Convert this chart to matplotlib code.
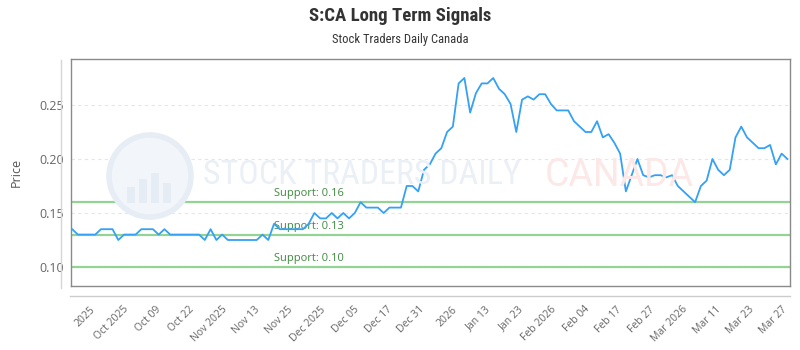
import numpy as np
import matplotlib
matplotlib.use("Agg")
import matplotlib.pyplot as plt
from matplotlib import font_manager
from matplotlib.patches import Ellipse, Rectangle
from matplotlib.lines import Line2D

# daily closes
prices = [
    0.135, 0.13, 0.13, 0.13, 0.13, 0.135, 0.135, 0.135, 0.125, 0.13,
    0.13, 0.13, 0.135, 0.135, 0.135, 0.13, 0.135, 0.13, 0.13, 0.13,
    0.13, 0.13, 0.13, 0.125, 0.135, 0.125, 0.13, 0.125, 0.125, 0.125,
    0.125, 0.125, 0.125, 0.13, 0.125, 0.14, 0.135, 0.135, 0.135, 0.135,
    0.135, 0.14, 0.15, 0.145, 0.145, 0.15, 0.145, 0.15, 0.145, 0.15,
    0.16, 0.155, 0.155, 0.155, 0.15, 0.155, 0.155, 0.155, 0.175, 0.175,
    0.17, 0.19, 0.195, 0.205, 0.21, 0.225, 0.23, 0.27, 0.275, 0.243,
    0.261, 0.27, 0.27, 0.275, 0.265, 0.26, 0.251, 0.225, 0.255, 0.258,
    0.255, 0.26, 0.26, 0.251, 0.245, 0.245, 0.245, 0.235, 0.23, 0.225,
    0.225, 0.235, 0.22, 0.223, 0.215, 0.205, 0.17, 0.185, 0.20, 0.185,
    0.183, 0.185, 0.185, 0.183, 0.185, 0.175, 0.17, 0.165, 0.16, 0.175,
    0.18, 0.20, 0.19, 0.185, 0.19, 0.22, 0.23, 0.22, 0.215, 0.21,
    0.21, 0.213, 0.195, 0.205, 0.20,
]
tick_labels = [
    "2025", "Oct 2025", "Oct 09", "Oct 22", "Nov 2025", "Nov 13", "Nov 25",
    "Dec 2025", "Dec 05", "Dec 17", "Dec 31", "2026", "Jan 13", "Jan 23",
    "Feb 2026", "Feb 04", "Feb 17", "Feb 27", "Mar 2026", "Mar 11",
    "Mar 23", "Mar 27",
]
support_levels = [0.16, 0.13, 0.10]
y_ticks = [0.10, 0.15, 0.20, 0.25]


def pick_font(names, fallback):
    for n in names:
        try:
            font_manager.findfont(font_manager.FontProperties(family=n),
                                  fallback_to_default=False)
            return n
        except ValueError:
            pass
    return fallback


narrow = pick_font(["Roboto Condensed", "Noto Sans Condensed", "Open Sans Condensed",
                    "DejaVu Sans Condensed", "Liberation Sans Narrow"], "Roboto")
plt.rcParams["font.family"] = ["Open Sans", "DejaVu Sans"]

W, H = 800, 350
fig = plt.figure(figsize=(W / 100, H / 100), dpi=100)
fig.patch.set_facecolor("white")

# plot area in pixels: x 71..790, y 59..286
ax = fig.add_axes([71 / W, 1 - 286 / H, 719 / W, 227 / H])
ax.set_facecolor("none")

x = np.arange(len(prices))
ax.set_xlim(-0.2, 124.45)
ax.set_ylim(0.0824, 0.2926)


def fx(px):
    return px / W


def fy(py):
    return 1 - py / H


# watermark
fig.patches.append(Ellipse((fx(150), fy(176)), 82 / W, 82 / H, transform=fig.transFigure,
                           fc="#f2f6fa", ec="#e7edf5", lw=4, zorder=0))
for bx, bh in [(127, 16), (139, 24), (151, 30), (163, 20)]:
    fig.patches.append(Rectangle((fx(bx), fy(203)), 8 / W, bh / H,
                                 transform=fig.transFigure, fc="#e6ecf4",
                                 ec="none", zorder=0))
fig.add_artist(Line2D([fx(122), fx(140), fx(156), fx(178)],
                      [fy(180), fy(166), fy(172), fy(152)],
                      color="#e6ecf4", lw=3, zorder=0))
fig.text(fx(203), fy(175), "STOCK TRADERS DAILY", family=narrow, fontstretch="condensed",
         fontsize=24.5, color="#ebf0f6", ha="left", va="center", zorder=0)
fig.text(fx(545), fy(175), "CANADA", family="Roboto",
         fontsize=27, color="#fde8e8", ha="left", va="center", zorder=0)

for yv in y_ticks:
    ax.axhline(yv, color="#e6e6e6", lw=0.8, ls=(0, (3, 3)), zorder=1)

for lvl in support_levels:
    ax.axhline(lvl, color="#93d393", lw=1.6, zorder=2)
    ax.annotate(f"Support: {lvl:.2f}", xy=(0.2823, lvl), xycoords=("axes fraction", "data"),
                xytext=(0, 2), textcoords="offset points", ha="left", va="bottom",
                fontsize=8, color="#3f8a3f", zorder=3)

ax.plot(x, prices, color="#34a1f6", lw=1.3, zorder=4)

ax.set_yticks(y_ticks)
ax.set_yticklabels([f"{v:.2f}" for v in y_ticks])
ax.tick_params(axis="y", length=0, pad=5, labelsize=9, labelcolor="#666666")

tick_pos = np.linspace(3.1, 122.9, len(tick_labels))
ax.set_xticks(tick_pos)
ax.set_xticklabels(tick_labels, rotation=45, ha="right", rotation_mode="anchor")
ax.tick_params(axis="x", length=0, pad=13, labelsize=7.5, labelcolor="#666666")

for s in ax.spines.values():
    s.set_color("#8a8a8a")
    s.set_linewidth(1)

ax.set_ylabel("Price", fontsize=9, color="#555555", labelpad=12)

# outer axis lines
fig.add_artist(Line2D([fx(70), fx(790)], [fy(296), fy(296)], color="#cccccc", lw=1))
fig.add_artist(Line2D([fx(60.5), fx(60.5)], [fy(60), fy(288)], color="#d6d6d6", lw=1))

fig.text(0.5, fy(16), "S:CA Long Term Signals", family=[narrow, "DejaVu Sans"],
         fontstretch="condensed", fontsize=13.5, fontweight="bold", color="#333333",
         ha="center", va="center")
fig.text(0.5, fy(40), "Stock Traders Daily Canada", family=[narrow, "DejaVu Sans"],
         fontstretch="condensed", fontsize=9, color="#333333", ha="center", va="center")

fig.savefig("out.png", dpi=100)
